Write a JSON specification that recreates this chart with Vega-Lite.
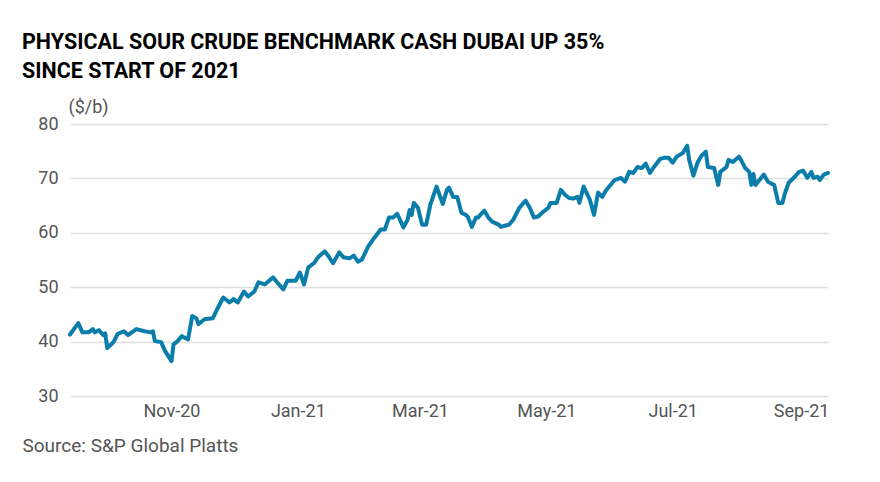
{
  "$schema": "https://vega.github.io/schema/vega-lite/v6.json",
  "width": 758,
  "height": 272,
  "autosize": {"type": "none"},
  "padding": {"left": 70, "top": 124, "right": 52, "bottom": 86},
  "background": "#ffffff",
  "title": {
    "text": ["PHYSICAL SOUR CRUDE BENCHMARK CASH DUBAI UP 35%", "SINCE START OF 2021"],
    "anchor": "start",
    "frame": "group",
    "dx": -48,
    "offset": 16,
    "font": "Roboto",
    "fontSize": 21.5,
    "fontWeight": "bold",
    "color": "#000000",
    "lineHeight": 29
  },
  "config": {
    "view": {"stroke": null},
    "font": "Roboto"
  },
  "data": {
    "values": [
      {"date": "2020-09-13", "price": 41.3},
      {"date": "2020-09-17", "price": 43.4},
      {"date": "2020-09-19", "price": 41.7},
      {"date": "2020-09-22", "price": 41.7},
      {"date": "2020-09-24", "price": 42.3},
      {"date": "2020-09-25", "price": 41.7},
      {"date": "2020-09-27", "price": 42.1},
      {"date": "2020-09-29", "price": 41.2},
      {"date": "2020-09-30", "price": 41.5},
      {"date": "2020-10-01", "price": 38.8},
      {"date": "2020-10-04", "price": 39.9},
      {"date": "2020-10-06", "price": 41.4},
      {"date": "2020-10-09", "price": 41.9},
      {"date": "2020-10-11", "price": 41.2},
      {"date": "2020-10-15", "price": 42.3},
      {"date": "2020-10-19", "price": 41.9},
      {"date": "2020-10-22", "price": 41.7},
      {"date": "2020-10-23", "price": 41.9},
      {"date": "2020-10-24", "price": 40.1},
      {"date": "2020-10-27", "price": 39.9},
      {"date": "2020-10-29", "price": 38.2},
      {"date": "2020-11-01", "price": 36.4},
      {"date": "2020-11-02", "price": 39.5},
      {"date": "2020-11-04", "price": 40.1},
      {"date": "2020-11-06", "price": 41.0},
      {"date": "2020-11-09", "price": 40.4},
      {"date": "2020-11-11", "price": 44.7},
      {"date": "2020-11-13", "price": 44.3},
      {"date": "2020-11-14", "price": 43.2},
      {"date": "2020-11-17", "price": 44.1},
      {"date": "2020-11-21", "price": 44.3},
      {"date": "2020-11-23", "price": 45.9},
      {"date": "2020-11-26", "price": 48.1},
      {"date": "2020-11-29", "price": 47.2},
      {"date": "2020-12-01", "price": 47.8},
      {"date": "2020-12-03", "price": 47.2},
      {"date": "2020-12-06", "price": 49.2},
      {"date": "2020-12-08", "price": 48.3},
      {"date": "2020-12-11", "price": 49.2},
      {"date": "2020-12-13", "price": 50.9},
      {"date": "2020-12-16", "price": 50.5},
      {"date": "2020-12-20", "price": 51.8},
      {"date": "2020-12-22", "price": 50.9},
      {"date": "2020-12-25", "price": 49.6},
      {"date": "2020-12-27", "price": 51.2},
      {"date": "2020-12-31", "price": 51.2},
      {"date": "2021-01-02", "price": 52.7},
      {"date": "2021-01-04", "price": 50.5},
      {"date": "2021-01-06", "price": 53.6},
      {"date": "2021-01-09", "price": 54.5},
      {"date": "2021-01-11", "price": 55.6},
      {"date": "2021-01-14", "price": 56.6},
      {"date": "2021-01-16", "price": 55.6},
      {"date": "2021-01-18", "price": 54.4},
      {"date": "2021-01-21", "price": 56.4},
      {"date": "2021-01-23", "price": 55.5},
      {"date": "2021-01-26", "price": 55.3},
      {"date": "2021-01-28", "price": 55.8},
      {"date": "2021-01-30", "price": 54.7},
      {"date": "2021-02-01", "price": 55.1},
      {"date": "2021-02-04", "price": 57.5},
      {"date": "2021-02-07", "price": 59.1},
      {"date": "2021-02-10", "price": 60.6},
      {"date": "2021-02-12", "price": 60.6},
      {"date": "2021-02-14", "price": 62.8},
      {"date": "2021-02-16", "price": 62.8},
      {"date": "2021-02-18", "price": 63.5},
      {"date": "2021-02-21", "price": 61.0},
      {"date": "2021-02-23", "price": 62.4},
      {"date": "2021-02-24", "price": 64.2},
      {"date": "2021-02-25", "price": 63.3},
      {"date": "2021-02-26", "price": 65.5},
      {"date": "2021-02-28", "price": 64.6},
      {"date": "2021-03-02", "price": 61.5},
      {"date": "2021-03-04", "price": 61.5},
      {"date": "2021-03-06", "price": 65.2},
      {"date": "2021-03-09", "price": 68.5},
      {"date": "2021-03-12", "price": 65.3},
      {"date": "2021-03-14", "price": 67.9},
      {"date": "2021-03-15", "price": 68.3},
      {"date": "2021-03-17", "price": 66.6},
      {"date": "2021-03-19", "price": 66.6},
      {"date": "2021-03-21", "price": 63.7},
      {"date": "2021-03-23", "price": 63.3},
      {"date": "2021-03-24", "price": 63.0},
      {"date": "2021-03-26", "price": 61.1},
      {"date": "2021-03-28", "price": 62.8},
      {"date": "2021-03-29", "price": 62.8},
      {"date": "2021-04-01", "price": 64.1},
      {"date": "2021-04-03", "price": 62.8},
      {"date": "2021-04-05", "price": 62.0},
      {"date": "2021-04-08", "price": 61.5},
      {"date": "2021-04-09", "price": 61.1},
      {"date": "2021-04-11", "price": 61.3},
      {"date": "2021-04-13", "price": 61.5},
      {"date": "2021-04-15", "price": 62.4},
      {"date": "2021-04-18", "price": 64.6},
      {"date": "2021-04-20", "price": 65.5},
      {"date": "2021-04-21", "price": 65.9},
      {"date": "2021-04-23", "price": 64.6},
      {"date": "2021-04-25", "price": 62.8},
      {"date": "2021-04-27", "price": 63.0},
      {"date": "2021-04-29", "price": 63.7},
      {"date": "2021-05-02", "price": 64.6},
      {"date": "2021-05-03", "price": 65.5},
      {"date": "2021-05-06", "price": 65.5},
      {"date": "2021-05-08", "price": 67.9},
      {"date": "2021-05-10", "price": 67.0},
      {"date": "2021-05-12", "price": 66.4},
      {"date": "2021-05-14", "price": 66.3},
      {"date": "2021-05-16", "price": 66.6},
      {"date": "2021-05-17", "price": 65.5},
      {"date": "2021-05-19", "price": 68.5},
      {"date": "2021-05-22", "price": 66.1},
      {"date": "2021-05-24", "price": 63.3},
      {"date": "2021-05-26", "price": 67.4},
      {"date": "2021-05-28", "price": 66.6},
      {"date": "2021-05-30", "price": 67.9},
      {"date": "2021-06-01", "price": 68.8},
      {"date": "2021-06-03", "price": 69.7},
      {"date": "2021-06-06", "price": 70.1},
      {"date": "2021-06-08", "price": 69.4},
      {"date": "2021-06-10", "price": 71.2},
      {"date": "2021-06-12", "price": 71.0},
      {"date": "2021-06-14", "price": 72.1},
      {"date": "2021-06-16", "price": 71.9},
      {"date": "2021-06-18", "price": 72.7},
      {"date": "2021-06-20", "price": 71.0},
      {"date": "2021-06-22", "price": 72.1},
      {"date": "2021-06-25", "price": 73.6},
      {"date": "2021-06-27", "price": 73.8},
      {"date": "2021-06-29", "price": 73.8},
      {"date": "2021-07-01", "price": 72.9},
      {"date": "2021-07-03", "price": 74.0},
      {"date": "2021-07-06", "price": 74.7},
      {"date": "2021-07-08", "price": 76.0},
      {"date": "2021-07-09", "price": 73.4},
      {"date": "2021-07-11", "price": 70.5},
      {"date": "2021-07-13", "price": 72.9},
      {"date": "2021-07-15", "price": 74.2},
      {"date": "2021-07-17", "price": 74.9},
      {"date": "2021-07-18", "price": 72.1},
      {"date": "2021-07-21", "price": 71.9},
      {"date": "2021-07-23", "price": 68.8},
      {"date": "2021-07-24", "price": 71.2},
      {"date": "2021-07-27", "price": 72.1},
      {"date": "2021-07-28", "price": 73.4},
      {"date": "2021-07-30", "price": 73.0},
      {"date": "2021-08-02", "price": 74.0},
      {"date": "2021-08-03", "price": 73.4},
      {"date": "2021-08-05", "price": 71.9},
      {"date": "2021-08-07", "price": 71.2},
      {"date": "2021-08-08", "price": 68.8},
      {"date": "2021-08-09", "price": 70.8},
      {"date": "2021-08-10", "price": 68.8},
      {"date": "2021-08-14", "price": 70.7},
      {"date": "2021-08-16", "price": 69.4},
      {"date": "2021-08-19", "price": 68.8},
      {"date": "2021-08-21", "price": 65.5},
      {"date": "2021-08-23", "price": 65.5},
      {"date": "2021-08-24", "price": 67.0},
      {"date": "2021-08-26", "price": 69.2},
      {"date": "2021-08-29", "price": 70.3},
      {"date": "2021-08-31", "price": 71.2},
      {"date": "2021-09-02", "price": 71.4},
      {"date": "2021-09-04", "price": 70.1},
      {"date": "2021-09-06", "price": 71.2},
      {"date": "2021-09-07", "price": 70.1},
      {"date": "2021-09-09", "price": 70.3},
      {"date": "2021-09-10", "price": 69.7},
      {"date": "2021-09-12", "price": 70.7},
      {"date": "2021-09-14", "price": 71.0}
    ]
  },
  "mark": {"type": "line", "color": "#0a7dab", "strokeWidth": 4, "strokeJoin": "round", "strokeCap": "round", "clip": false},
  "encoding": {
    "x": {
      "field": "date",
      "type": "temporal",
      "scale": {"type": "utc", "domain": ["2020-09-13", "2021-09-14"], "nice": false},
      "axis": {
        "labelExpr": "utcFormat(datum.value, '%b-%y')",
        "tickCount": {"interval": "month", "step": 2},
        "grid": false,
        "domain": false,
        "ticks": false,
        "labelFont": "Roboto",
        "labelFontSize": 18,
        "labelColor": "#555555",
        "labelPadding": 6,
        "labelFlush": false,
        "labelOverlap": false,
        "title": "Source: S&P Global Platts",
        "titleFont": "Roboto",
        "titleFontSize": 19,
        "titleFontWeight": "normal",
        "titleColor": "#555555",
        "titleAlign": "left",
        "titleAnchor": "start",
        "titleBaseline": "alphabetic",
        "titleX": -48,
        "titleY": 55
      }
    },
    "y": {
      "field": "price",
      "type": "quantitative",
      "scale": {"domain": [30, 80], "nice": false, "zero": false},
      "axis": {
        "values": [30, 40, 50, 60, 70, 80],
        "grid": true,
        "gridColor": "#dedede",
        "gridWidth": 1.5,
        "domain": false,
        "ticks": false,
        "labelFont": "Roboto",
        "labelFontSize": 18,
        "labelColor": "#555555",
        "labelPadding": 12,
        "title": "($/b)",
        "titleFont": "Roboto",
        "titleFontSize": 18,
        "titleFontWeight": "normal",
        "titleColor": "#555555",
        "titleAngle": 0,
        "titleAlign": "left",
        "titleBaseline": "alphabetic",
        "titleX": -2,
        "titleY": -12
      }
    }
  }
}
